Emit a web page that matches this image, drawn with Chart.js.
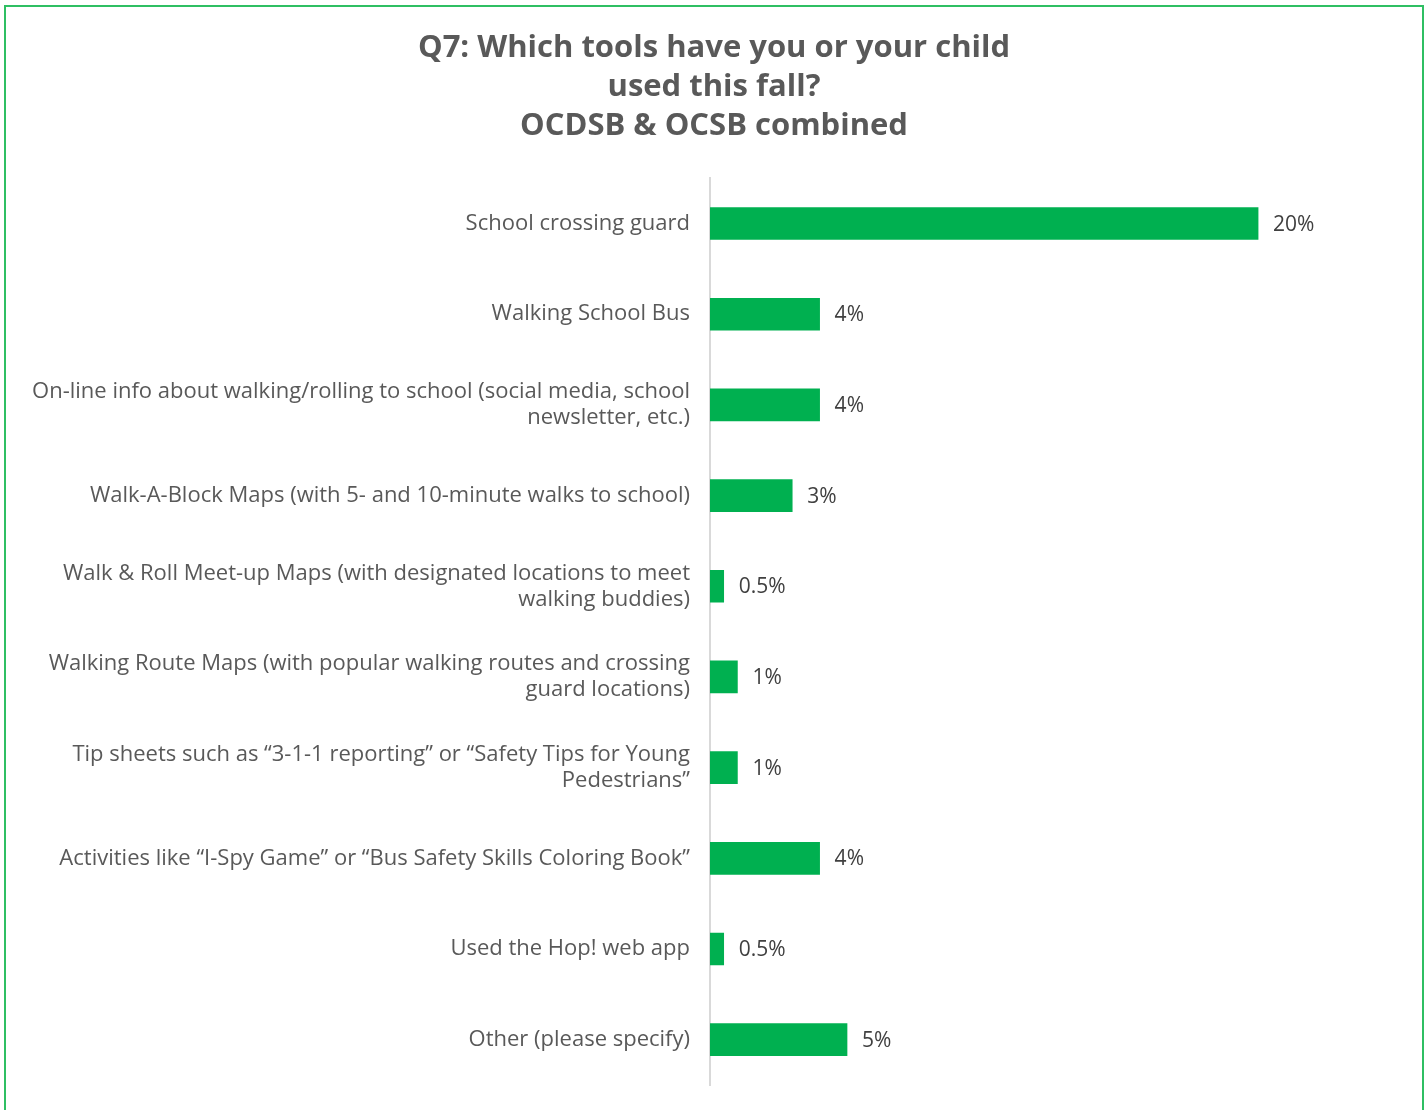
<!DOCTYPE html>
<html>
<head>
<meta charset="utf-8">
<script src="https://cdn.jsdelivr.net/npm/chart.js@4.4.1/dist/chart.umd.min.js"></script>
<style>
  html, body { margin: 0; padding: 0; background: #fff; }
  #wrap { position: relative; width: 1428px; height: 1110px; overflow: hidden; }
  #frame { position: absolute; left: 4px; top: 5px; width: 1416px; height: 1200px; border: 2px solid #2fbf63; }
  #chart { position: absolute; left: 0; top: 0; }
</style>
</head>
<body>
<div id="wrap">
  <div id="frame"></div>
  <canvas id="chart" width="1428" height="1110"></canvas>
</div>
<script>
const titleLines = ['Q7: Which tools have you or your child', 'used this fall?', 'OCDSB & OCSB combined'];

const categories = [
    ['School crossing guard'],
    ['Walking School Bus'],
    ['On-line info about walking/rolling to school (social media, school', 'newsletter, etc.)'],
    ['Walk-A-Block Maps (with 5- and 10-minute walks to school)'],
    ['Walk & Roll Meet-up Maps (with designated locations to meet', 'walking buddies)'],
    ['Walking Route Maps (with popular walking routes and crossing', 'guard locations)'],
    ['Tip sheets such as \u201c3-1-1 reporting\u201d or \u201cSafety Tips for Young', 'Pedestrians\u201d'],
    ['Activities like \u201cI-Spy Game\u201d or \u201cBus Safety Skills Coloring Book\u201d'],
    ['Used the Hop! web app'],
    ['Other (please specify)']
];

// percent of respondents
const percentUsed = [20, 4, 4, 3, 0.5, 1, 1, 4, 0.5, 5];

const barGreen = '#00b050';
const labelGray = '#595959';

// value labels at the end of each bar
const barValueLabels = {
    id: 'barValueLabels',
    afterDatasetsDraw(chart) {
        const ctx = chart.ctx;
        const meta = chart.getDatasetMeta(0);
        ctx.save();
        ctx.font = '21px "Open Sans", sans-serif';
        ctx.fillStyle = '#404040';
        ctx.textAlign = 'left';
        ctx.textBaseline = 'middle';
        meta.data.forEach((bar, i) => {
            ctx.fillText(percentUsed[i] + '%', bar.x + 15, bar.y + 1);
        });
        ctx.restore();
    }
};

new Chart(document.getElementById('chart'), {
    type: 'bar',
    data: {
        labels: categories,
        datasets: [{
            data: percentUsed,
            backgroundColor: barGreen,
            barThickness: 32
        }]
    },
    options: {
        indexAxis: 'y',
        responsive: false,
        animation: false,
        layout: {padding: {left: 0, right: 0, top: 29, bottom: 12}},
        scales: {
            x: {
                display: false,
                min: 0,
                max: 26.2
            },
            y: {
                grid: {display: false},
                border: {display: true, color: '#d9d9d9', width: 2},
                ticks: {
                    color: labelGray,
                    padding: 12,
                    font: {family: '"Open Sans", sans-serif', size: 22, lineHeight: 1.18}
                },
                afterFit(scale) { scale.width = 710; }
            }
        },
        plugins: {
            legend: {display: false},
            tooltip: {enabled: false},
            title: {
                display: true,
                text: titleLines,
                color: labelGray,
                font: {family: '"Open Sans", sans-serif', size: 31, weight: 'bold', lineHeight: 1.26},
                padding: {top: 0, bottom: 32}
            }
        }
    },
    plugins: [barValueLabels]
});
</script>
</body>
</html>
